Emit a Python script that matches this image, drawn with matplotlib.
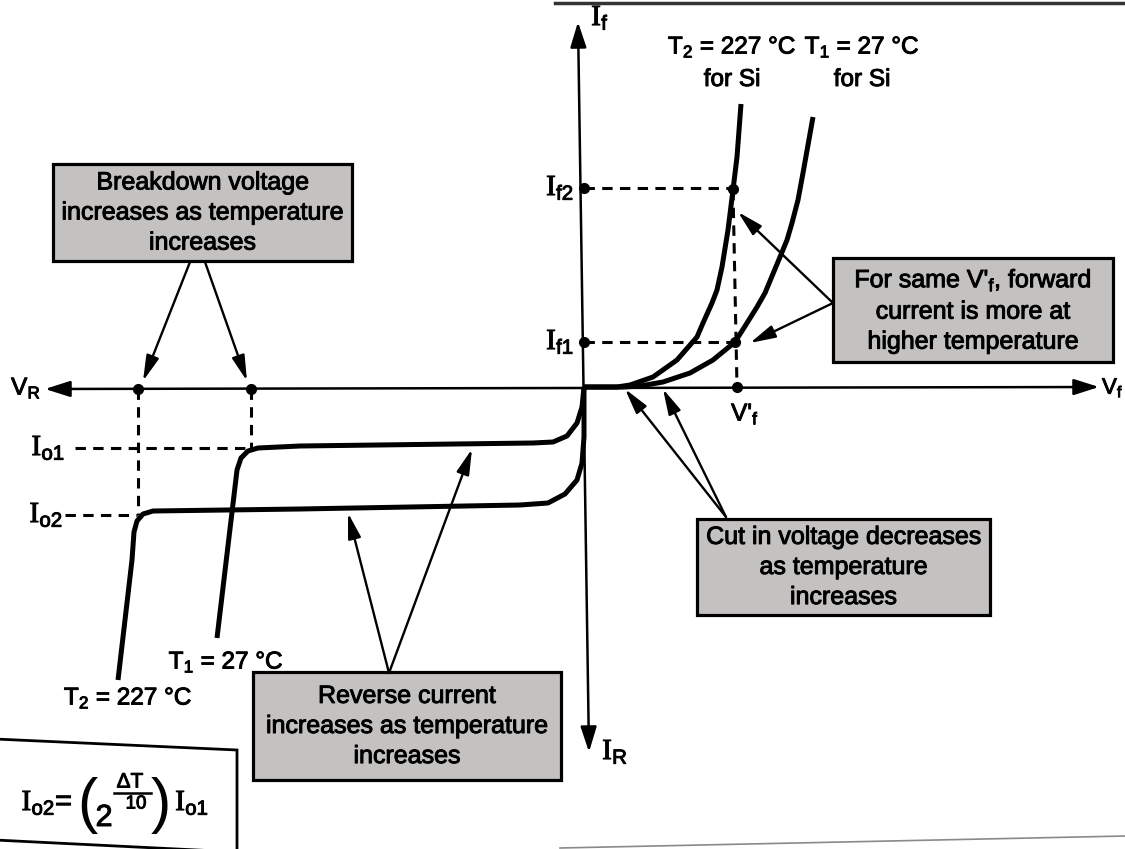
"""Diode V-I characteristic at two temperatures (T1 = 27 C, T2 = 227 C), Si.

Drawn on a pixel-sized canvas: x grows right, y grows down, origin of the
diode axes sits near (584, 387).
"""

import matplotlib
matplotlib.use("Agg")
import matplotlib.pyplot as plt
import matplotlib.patheffects as pe
from matplotlib.patches import Rectangle, Polygon

plt.rcParams["font.family"] = ["Liberation Sans", "DejaVu Sans"]
plt.rcParams["mathtext.fontset"] = "custom"
plt.rcParams["mathtext.rm"] = "Liberation Serif"
plt.rcParams["mathtext.sf"] = "Liberation Sans"
plt.rcParams["mathtext.it"] = "Liberation Sans"
plt.rcParams["mathtext.bf"] = "Liberation Sans:bold"

# ---- curves (canvas pixels) ----
T2_FWD_X = [584, 617, 630, 653, 677, 697, 703, 712, 717, 722, 728, 733, 737, 741]
T2_FWD_Y = [387, 387, 385, 377, 360, 337, 323, 303, 290, 267, 230, 190, 157, 104]
T1_FWD_X = [584, 623, 640, 663, 690, 713, 735, 747, 757, 765, 780, 787, 792, 798, 803, 813]
T1_FWD_Y = [387, 387, 386, 382, 373, 360, 342, 323, 307, 293, 257, 240, 223, 200, 173, 117]

T1_REV_X = [584, 582, 577, 567, 553, 533, 300, 258, 248, 241, 237, 235, 217]
T1_REV_Y = [387, 407, 423, 436, 442, 443, 446, 448, 451, 458, 470, 487, 638]
T2_REV_X = [584, 584, 582, 577, 565, 548, 520, 300, 153, 143, 137, 134, 132, 118]
T2_REV_Y = [387, 437, 463, 480, 494, 503, 505, 509, 511, 514, 521, 532, 560, 680]

# marked operating points
DOTS_X = [584, 584, 733, 735, 737, 138, 251]
DOTS_Y = [188, 342, 189, 342, 387, 389, 389]

# dashed projection lines: (x0, y0, x1, y1)
DASHES = [
    (584, 188, 733, 188),   # If2
    (584, 342, 735, 342),   # If1
    (733, 190, 737, 387),   # V'f
    (75, 448, 250, 448),    # Io1
    (251, 389, 251, 448),
    (65, 515, 137, 515),    # Io2
    (138, 389, 138, 515),
]

BOX_TEXTS = [
    "Breakdown voltage\nincreases as temperature\nincreases",
    "For same V'$_{\\mathsf{f}}$, forward\ncurrent is more at\nhigher temperature",
    "Cut in voltage decreases\nas temperature\nincreases",
    "Reverse current\nincreases as temperature\nincreases",
]
# (left, top, right, bottom)
BOX_RECTS = [
    (53, 164, 352, 261),
    (833, 258, 1113, 362),
    (697, 519, 990, 615),
    (253, 672, 561, 780),
]
# (tail_x, tail_y, head_x, head_y)
POINTERS = [
    (190, 262, 143, 381), (205, 262, 247, 381),
    (833, 303, 738, 212), (833, 303, 750, 343),
    (726, 517, 625, 389), (726, 517, 663, 389),
    (389, 673, 348, 513), (389, 673, 472, 449),
]

INK = "black"
BOX_FILL = "#c4c2c1"
THICK = [pe.withStroke(linewidth=0.7, foreground=INK)]


def txt(ax, x, y, s, size=17.5, stroke=True, **kw):
    kw.setdefault("ha", "center")
    kw.setdefault("va", "center")
    if stroke:
        kw["path_effects"] = THICK
    return ax.text(x, y, s, fontsize=size, **kw)


def main() -> None:
    fig = plt.figure(figsize=(11.25, 8.49), dpi=100)
    ax = fig.add_axes([0, 0, 1, 1])
    ax.set_xlim(0, 1125)
    ax.set_ylim(849, 0)
    ax.axis("off")

    # page edges from the scan
    ax.plot([555, 1125], [3, 3], color="#333333", lw=2.5)
    ax.plot([560, 1125], [848, 836], color="#8a8a8a", lw=1.2)

    # axes with arrowheads at both ends
    axis_arrow = dict(arrowstyle="<|-|>,head_length=1.1,head_width=0.35",
                      color=INK, lw=1.8, shrinkA=0, shrinkB=0, mutation_scale=14)
    ax.annotate("", xy=(45, 389), xytext=(1099, 387), arrowprops=axis_arrow)
    ax.annotate("", xy=(578, 22), xytext=(589, 752), arrowprops=axis_arrow)

    dash = (0, (3.4, 2.4))
    for x0, y0, x1, y1 in DASHES:
        ax.plot([x0, x1], [y0, y1], color=INK, lw=2.2, linestyle=dash)

    for xs, ys in [(T2_FWD_X, T2_FWD_Y), (T1_FWD_X, T1_FWD_Y),
                   (T1_REV_X, T1_REV_Y), (T2_REV_X, T2_REV_Y)]:
        ax.plot(xs, ys, color=INK, lw=3.6, solid_joinstyle="round",
                solid_capstyle="butt")

    ax.plot(DOTS_X, DOTS_Y, "o", color=INK, ms=7, zorder=5)

    # annotation boxes
    for (l, t, r, b), s in zip(BOX_RECTS, BOX_TEXTS):
        ax.add_patch(Rectangle((l, t), r - l, b - t, facecolor=BOX_FILL,
                               edgecolor=INK, lw=2.3, zorder=3))
        t_ = txt(ax, (l + r) / 2, (t + b) / 2, s, size=18, linespacing=1.32)
        t_.set_zorder(4)

    ptr = dict(arrowstyle="-|>,head_length=1.1,head_width=0.28",
               color=INK, lw=1.7, shrinkA=0, shrinkB=0, mutation_scale=14)
    for tx, ty, hx, hy in POINTERS:
        ax.annotate("", xy=(hx, hy), xytext=(tx, ty), arrowprops=ptr)

    # formula box, cut by the left page edge (scan is slightly skewed)
    ax.add_patch(Polygon([(-5, 739), (237, 750), (237, 852), (-5, 840)],
                         closed=True, facecolor="white", edgecolor=INK, lw=2.0))
    txt(ax, 47, 803, r"$\mathrm{I}_{\mathsf{o2}}$=", size=21)
    txt(ax, 87, 806, "(", size=44, stroke=False)
    txt(ax, 104, 818, "2", size=22)
    txt(ax, 130, 782, "ΔT", size=15)
    ax.plot([114, 151], [793, 793], color=INK, lw=1.8)
    txt(ax, 136, 804, "10", size=13.5)
    txt(ax, 161, 806, ")", size=44, stroke=False)
    txt(ax, 192, 803, r"$\mathrm{I}_{\mathsf{o1}}$", size=21)

    # axis and point labels
    big = 21
    txt(ax, 600, 18, r"$\mathrm{I}_{\mathsf{f}}$", size=big)
    txt(ax, 26, 388, r"V$_{\mathsf{R}}$")
    txt(ax, 1102, 388, r"V$_{\mathsf{f}}$", size=16, ha="left")
    txt(ax, 615, 752, r"$\mathrm{I}_{\mathsf{R}}$", size=big)
    txt(ax, 574, 188, r"$\mathrm{I}_{\mathsf{f2}}$", size=big, ha="right")
    txt(ax, 574, 342, r"$\mathrm{I}_{\mathsf{f1}}$", size=big, ha="right")
    txt(ax, 65, 448, r"$\mathrm{I}_{\mathsf{o1}}$", size=big, ha="right")
    txt(ax, 63, 515, r"$\mathrm{I}_{\mathsf{o2}}$", size=big, ha="right")
    txt(ax, 745, 414, r"V'$_{\mathsf{f}}$")

    txt(ax, 732, 47, r"T$_{\mathsf{2}}$ = 227 °C")
    txt(ax, 732, 80, "for Si")
    txt(ax, 862, 47, r"T$_{\mathsf{1}}$ = 27 °C")
    txt(ax, 862, 80, "for Si")
    txt(ax, 226, 662, r"T$_{\mathsf{1}}$ = 27 °C")
    txt(ax, 128, 698, r"T$_{\mathsf{2}}$ = 227 °C")

    fig.savefig("out.png", dpi=100)
    plt.close(fig)


if __name__ == "__main__":
    main()
